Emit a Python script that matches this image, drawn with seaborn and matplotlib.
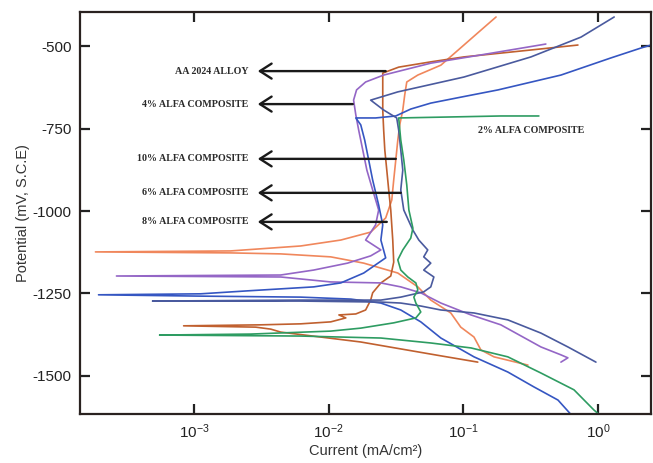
import numpy as np
import pandas as pd
import matplotlib
matplotlib.use("Agg")
import matplotlib.pyplot as plt
from matplotlib.ticker import NullLocator, FixedLocator
import seaborn as sns

# Polarization curves: current (mA/cm2) and potential (mV vs SCE),
# each traced from the cathodic end, through Ecorr, to the anodic end.
salmon_i = [0.302, 0.169, 0.135, 0.120, 0.0957, 0.0807, 0.0573, 0.0459, 0.0326, 0.0182,
            0.01035, 0.0044, 0.00187, 0.000185, 0.00187, 0.00619, 0.0123, 0.0205, 0.0265,
            0.0294, 0.0304, 0.0315, 0.0326, 0.0337, 0.0355, 0.0367, 0.0380, 0.0459, 0.0681,
            0.101, 0.135, 0.175]
salmon_E = [-1467, -1442, -1421, -1382, -1352, -1309, -1270, -1230, -1188, -1158,
            -1139, -1130, -1127, -1124, -1121, -1106, -1088, -1064, -1021,
            -967, -906, -845, -785, -739, -694, -648, -609, -588, -558,
            -497, -452, -412]

alloy_i = [0.128, 0.0681, 0.0343, 0.0173, 0.00872, 0.0044, 0.00371, 0.00287, 0.000836,
           0.00312, 0.00619, 0.01035, 0.0134, 0.0119, 0.0159, 0.0188, 0.0205, 0.0212,
           0.0244, 0.0289, 0.0304, 0.0299, 0.0289, 0.0279, 0.0270, 0.0261, 0.0256,
           0.0252, 0.0252, 0.0252, 0.0331, 0.0573, 0.101, 0.318, 0.710]
alloy_E = [-1458, -1439, -1418, -1397, -1382, -1367, -1358, -1352, -1348,
           -1345, -1342, -1336, -1324, -1315, -1312, -1300, -1270, -1248,
           -1218, -1197, -1155, -1088, -997, -936, -876, -815, -755,
           -694, -633, -582, -564, -548, -533, -512, -497]

purple_i = [0.531, 0.598, 0.531, 0.377, 0.190, 0.114, 0.0681, 0.0483, 0.0343, 0.0244,
            0.01035, 0.0044, 0.000265, 0.0044, 0.00773, 0.0138, 0.0205, 0.0244, 0.0188,
            0.0223, 0.0235, 0.0212, 0.0192, 0.0179, 0.0167, 0.0159, 0.0153, 0.0161,
            0.0188, 0.0256, 0.0573, 0.135, 0.410]
purple_E = [-1458, -1445, -1436, -1412, -1345, -1315, -1279, -1248, -1230, -1218,
            -1215, -1200, -1197, -1194, -1179, -1158, -1136, -1118, -1088,
            -1042, -997, -936, -876, -815, -755, -709, -664, -633,
            -609, -588, -552, -527, -494]

blue_i = [0.664, 0.505, 0.334, 0.214, 0.120, 0.0681, 0.0483, 0.0343, 0.0244, 0.0146,
          0.00619, 0.00112, 0.000195, 0.00112, 0.0025, 0.00773, 0.0123, 0.0182, 0.0265,
          0.0244, 0.0252, 0.0235, 0.0212, 0.0198, 0.0185, 0.0173, 0.0159, 0.0223,
          0.0315, 0.0407, 0.0573, 0.0957, 0.181, 0.531, 1.25, 2.09, 2.94]
blue_E = [-1627, -1573, -1533, -1488, -1442, -1385, -1336, -1300, -1279, -1267,
          -1261, -1258, -1254, -1251, -1242, -1230, -1218, -1188, -1142,
          -1088, -1042, -982, -906, -845, -785, -739, -718, -718,
          -712, -691, -673, -655, -633, -588, -536, -506, -488]

navy_i = [0.966, 0.598, 0.377, 0.214, 0.120, 0.0681, 0.0483, 0.0343, 0.0244, 0.00619,
          0.000491, 0.00619, 0.0244, 0.0343, 0.0508, 0.0573, 0.0604, 0.0508, 0.0573,
          0.0508, 0.0544, 0.0467, 0.0422, 0.0361, 0.0343, 0.0355, 0.0343, 0.0331,
          0.0320, 0.0256, 0.0205, 0.0326, 0.101, 0.318, 0.748, 1.32]
navy_E = [-1458, -1412, -1370, -1330, -1309, -1300, -1288, -1279, -1276, -1273,
          -1273, -1270, -1270, -1261, -1245, -1230, -1200, -1179, -1158,
          -1139, -1118, -1088, -1058, -997, -936, -876, -815, -755,
          -718, -694, -664, -639, -594, -533, -473, -412]

green_i = [1.05, 0.933, 0.664, 0.377, 0.214, 0.114, 0.0573, 0.0244, 0.00619, 0.000554,
           0.00263, 0.01035, 0.0173, 0.0304, 0.0444, 0.0483, 0.0444, 0.0429, 0.0459,
           0.0444, 0.0387, 0.0343, 0.0326, 0.0355, 0.0407, 0.0422, 0.0394, 0.0380,
           0.0361, 0.0343, 0.0331, 0.0807, 0.190, 0.364]
green_E = [-1621, -1603, -1542, -1491, -1442, -1415, -1400, -1385, -1379, -1376,
           -1373, -1364, -1355, -1339, -1324, -1306, -1279, -1261, -1239,
           -1218, -1200, -1179, -1148, -1118, -1082, -1052, -997, -921,
           -845, -785, -718, -715, -712, -712]

# arrow labels: text, potential, current where the arrow starts (on the curve)
labels = ["AA 2024 ALLOY", "4% ALFA COMPOSITE", "10% ALFA COMPOSITE",
          "6% ALFA COMPOSITE", "8% ALFA COMPOSITE"]
label_E = [-576, -676, -842, -945, -1033]
label_tail = [0.0265, 0.0151, 0.0315, 0.0343, 0.0270]

sns.set_theme(style="ticks")
plt.rcParams['font.family'] = ['Liberation Sans', 'DejaVu Sans']
plt.rcParams['mathtext.fontset'] = 'custom'
plt.rcParams['mathtext.rm'] = 'Liberation Sans'
plt.rcParams['mathtext.it'] = 'Liberation Sans:italic'
plt.rcParams['axes.unicode_minus'] = False

fig = plt.figure(figsize=(6.53, 4.63), dpi=100)
ax = fig.add_axes([0.1225, 0.106, 0.8745, 0.868])

curves = [
    (salmon_i, salmon_E, "#f0875c"),
    (alloy_i, alloy_E, "#c0602f"),
    (purple_i, purple_E, "#9466c6"),
    (blue_i, blue_E, "#3556c2"),
    (navy_i, navy_E, "#4a5a9e"),
    (green_i, green_E, "#2e9c62"),
]
for cur, pot, col in curves:
    df = pd.DataFrame({"i": cur, "E": pot})
    sns.lineplot(data=df, x="i", y="E", sort=False, estimator=None,
                 color=col, lw=1.2, ax=ax)

ax.set_xscale("log")
ax.set_xlim(1.42e-4, 2.48)
ax.set_ylim(-1615, -397)
ax.xaxis.set_major_locator(FixedLocator([1e-3, 1e-2, 1e-1, 1e0]))
ax.xaxis.set_minor_locator(NullLocator())
ax.set_yticks([-500, -750, -1000, -1250, -1500])
ax.tick_params(direction="in", length=7, width=1.6, top=True, right=True,
               labelsize=11, colors="#222222", pad=6)
for sp in ax.spines.values():
    sp.set_linewidth(1.6)
    sp.set_color("#2a2220")

ax.set_xlabel("Current (mA/cm²)", fontsize=10.5, color="#333333", labelpad=2)
ax.set_ylabel("Potential (mV, S.C.E)", fontsize=10.5, color="#333333", labelpad=2)

tip = 2.97e-3
for txt, e, tail in zip(labels, label_E, label_tail):
    ax.annotate("", xy=(tip, e), xytext=(tail, e),
                arrowprops=dict(arrowstyle="->,head_length=0.7,head_width=0.45",
                                lw=1.7, color="#1a1a1a", shrinkA=0, shrinkB=0))
    ax.text(2.54e-3, e, txt, ha="right", va="center", fontsize=7.2,
            family="Liberation Serif", weight="bold", color="#2a2a2a")

ax.text(0.318, -755, "2% ALFA COMPOSITE", ha="center", va="center", fontsize=7.2,
        family="Liberation Serif", weight="bold", color="#2a2a2a")

fig.savefig("out.png", dpi=100, facecolor="white")
